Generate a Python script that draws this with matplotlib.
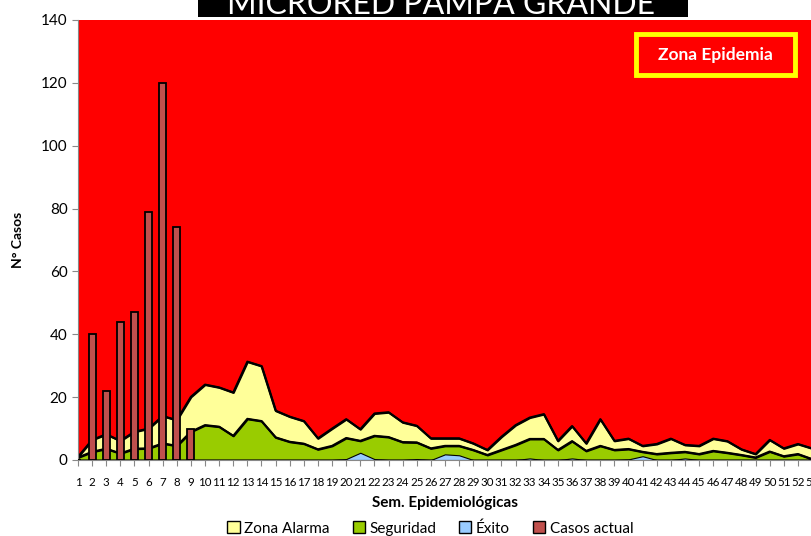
import numpy as np
import matplotlib.pyplot as plt
from matplotlib.patches import Patch, Rectangle

plt.rcParams['font.family'] = ['Lato', 'DejaVu Sans']

semanas = list(range(1, 54))
alarma = [1, 6.4, 8.2, 6.1, 9, 10, 14, 12.7, 20.1, 24, 23.1, 21.5, 31.3, 29.9, 15.7, 13.8, 12.4, 6.9,
          10, 13, 9.8, 14.8, 15.2, 12, 10.9, 6.9, 6.9, 6.9, 5.3, 3.2, 7.4, 11.1, 13.5, 14.6, 6.1, 10.8,
          5.3, 13, 6.1, 6.8, 4.5, 5.1, 6.8, 4.8, 4.5, 6.8, 6, 3.4, 1.9, 6.4, 3.7, 5.1, 3.7]
seguridad = [0.8, 2.6, 3.6, 2.1, 3.6, 3.7, 5.3, 4.5, 9, 11.1, 10.6, 7.7, 13.1, 12.4, 7.2, 5.8, 5.2, 3.4,
             4.5, 7, 6.1, 7.7, 7.3, 5.7, 5.6, 3.7, 4.5, 4.5, 3.2, 1.6, 3.2, 4.8, 6.7, 6.7, 3.2, 6,
             2.9, 4.5, 3.2, 3.5, 2.6, 1.9, 2.3, 2.6, 1.9, 2.9, 2.3, 1.6, 0.8, 2.7, 1.2, 1.9, 0.3]
exito = [0, 0, 0, 0, 0, 0, 0, 0, 0, 0, 0, 0, 0, 0, 0, 0, 0, 0,
         0, 0.3, 2.3, 0.3, 0, 0, 0.3, 0, 1.8, 1.5, 0, 0, 0, 0, 0.5, 0, 0, 0.5,
         0, 0, 0, 0.2, 1.2, 0, 0, 0.5, 0, 0, 0, 0, 0, 0, 0, 0, 0]
epidemia = [140] * 53
sem_casos = [1, 2, 3, 4, 5, 6, 7, 8, 9]
casos = [0, 40, 22, 44, 47, 79, 120, 74, 10]

fig = plt.figure(figsize=(8.12, 5.36), dpi=100)
ax = fig.add_axes([0.096, 0.1418, 0.904, 0.8209])

ax.fill_between(semanas, 0, epidemia, color='#FF0000', lw=0)
ax.fill_between(semanas, 0, alarma, color='#FFFF99', edgecolor='black', lw=1.5)
ax.fill_between(semanas, 0, seguridad, color='#99CC00', edgecolor='black', lw=1.5)
ax.fill_between(semanas, 0, exito, color='#99CCFF', edgecolor='black', lw=0.8)
ax.plot(semanas, alarma, color='black', lw=1.5)
ax.plot(semanas, seguridad, color='black', lw=1.5)
ax.bar(sem_casos, casos, width=0.5, color='#C0504D', edgecolor='black', lw=1.3, zorder=3)

ax.set_xlim(1, 53)
ax.set_ylim(0, 140)
ax.set_xticks(semanas)
ax.set_xticklabels([str(s) for s in semanas], fontsize=8.3)
ax.set_yticks(range(0, 141, 20))
ax.tick_params(axis='y', labelsize=11, length=4, color='#888888')
ax.tick_params(axis='x', length=4, pad=8, color='#888888')
for s in ['top', 'right']:
    ax.spines[s].set_visible(False)
ax.spines['left'].set_color('#888888')
ax.spines['bottom'].set_color('#888888')

ax.set_xlabel('Sem. Epidemiológicas', fontsize=11, fontweight='bold', labelpad=6)
ax.set_ylabel('N° Casos', fontsize=10, fontweight='bold', labelpad=12)

# title box, cut at the top edge
fig.patches.append(Rectangle((198 / 812, 1 - 17 / 536), 490 / 812, 17 / 536,
                             transform=fig.transFigure, facecolor='black', edgecolor='none'))
fig.text(0.543, 1 - 14 / 536, 'MICRORED PAMPA GRANDE', ha='center', va='baseline',
         color='white', fontsize=23)

# Zona Epidemia label
ax.add_patch(Rectangle((0.760, 0.875), 0.217, 0.093, transform=ax.transAxes,
                       facecolor='#FF0000', edgecolor='#FFFF00', lw=3.5, zorder=5))
ax.text(0.868, 0.921, 'Zona Epidemia', transform=ax.transAxes, ha='center', va='center',
        color='white', fontsize=12.5, fontweight='bold', zorder=6)

handles = [Patch(facecolor='#FFFF99', edgecolor='black', label='Zona Alarma'),
           Patch(facecolor='#99CC00', edgecolor='black', label='Seguridad'),
           Patch(facecolor='#99CCFF', edgecolor='black', label='Éxito'),
           Patch(facecolor='#C0504D', edgecolor='black', label='Casos actual')]
fig.legend(handles=handles, loc='lower center', bbox_to_anchor=(0.53, -0.025), ncol=4,
           frameon=False, fontsize=11, handlelength=0.8, handleheight=0.8,
           handletextpad=0.3, columnspacing=1.5)

fig.savefig('out.png', dpi=100)
